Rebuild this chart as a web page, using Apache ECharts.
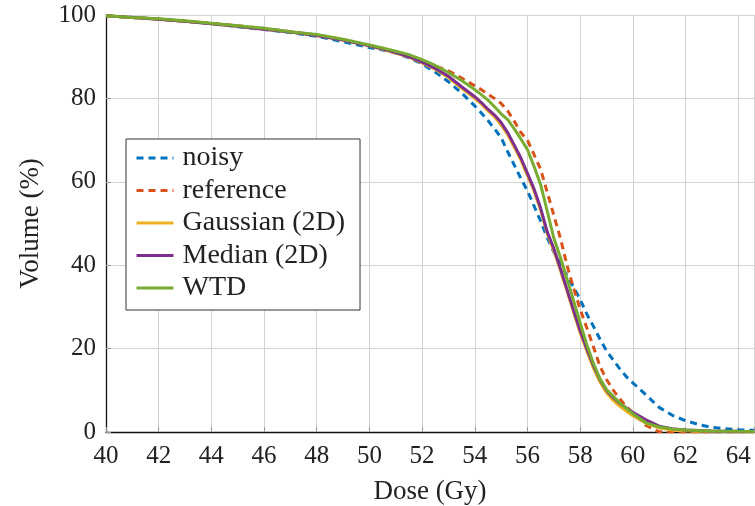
<!DOCTYPE html>
<html>
<head>
<meta charset="utf-8">
<script src="https://cdn.jsdelivr.net/npm/echarts@6/dist/echarts.min.js"></script>
<style>
html,body{margin:0;padding:0;background:#fff;}
#chart{width:755px;height:506px;}
</style>
</head>
<body>
<div id="chart"></div>
<script>
const doses = [40,41,42,43,44,45,46,47,48,49,50,50.5,51,51.5,52,52.5,53,53.5,54,54.25,54.5,54.75,55,55.25,55.5,55.75,56,56.25,56.5,56.75,57,57.25,57.5,57.75,58,58.25,58.5,58.75,59,59.25,59.5,59.75,60,60.5,61,61.5,62,62.5,63,63.5,64,64.6];

const noisy = [99.8,99.4,99.0,98.5,97.9,97.2,96.5,95.8,94.9,93.6,92.2,
  91.6,90.9,89.7,88.3,86.3,84.0,81.3,78.2,
  76.5,74.7,72.7,70.6,67.2,64.0,60.8,57.8,54.2,50.6,46.6,43.2,40.3,37.5,34.7,31.8,28.3,25.4,22.3,19.5,17.3,15.2,13.3,11.8,
  8.9,5.9,4.0,2.7,1.8,1.1,0.8,0.55,0.4];

const reference = [99.8,99.4,99.0,98.5,98.0,97.4,96.8,96.0,95.2,94.1,92.7,
  92.0,91.2,90.3,89.0,87.8,86.6,84.9,83.0,
  82.1,81.0,80.0,78.8,77.0,74.5,71.8,70.0,66.5,63.0,57.5,52.0,46.5,40.0,34.5,29.5,25.0,20.5,15.8,12.6,10.1,8.0,6.1,4.6,
  1.6,0.05,0,0,0,0,0,0,0];

const gaussian = [99.8,99.4,99.0,98.5,97.9,97.3,96.6,95.9,95.1,94.0,92.6,
  91.8,90.9,89.9,88.5,87.0,85.0,82.4,80.0,
  78.6,77.0,75.6,73.6,71.3,68.3,65.2,61.5,57.8,53.2,47.6,43.5,38.8,33.8,28.7,23.8,19.5,15.4,12.0,9.4,7.6,6.2,5.0,3.9,
  2.1,1.0,0.5,0.3,0.2,0.15,0.1,0.05,0.05];

const median = [99.8,99.4,99.0,98.5,97.9,97.3,96.6,95.9,95.1,94.0,92.6,
  91.9,91.0,90.0,88.7,87.2,85.3,82.8,80.4,
  79.0,77.4,76.0,74.2,71.8,68.8,65.7,62.0,58.3,53.7,48.0,44.0,39.2,34.2,29.2,24.3,20.0,16.0,12.6,10.0,8.3,6.9,5.8,4.7,
  2.9,1.4,0.8,0.5,0.35,0.25,0.2,0.15,0.1];

const wtd = [99.8,99.4,99.1,98.6,98.0,97.4,96.8,96.0,95.3,94.2,92.8,
  92.1,91.3,90.5,89.3,87.9,86.2,84.3,82.1,
  80.9,79.6,78.0,76.3,74.9,72.7,70.3,67.7,63.7,59.3,53.0,46.5,41.9,36.7,31.5,26.2,21.0,16.5,12.8,10.2,8.6,7.0,5.7,4.4,
  2.2,1.2,0.7,0.5,0.35,0.25,0.2,0.15,0.1];

const seriesNames = ['noisy','reference','Gaussian (2D)','Median (2D)','WTD'];
const seriesValues = [noisy, reference, gaussian, median, wtd];
const seriesColors = ['#0072BD','#D95319','#EDB120','#7E2F8E','#77AC30'];
const seriesDashed = [true, true, false, false, false];

const FONT = '"Liberation Serif", serif';

const chart = echarts.init(document.getElementById('chart'), null, {renderer:'canvas'});

const series = seriesNames.map((name, i) => ({
  name: name,
  type: 'line',
  data: doses.map((d, j) => [d, seriesValues[i][j]]),
  symbol: 'none',
  showSymbol: false,
  smooth: false,
  animation: false,
  z: 2 + i,
  lineStyle: {
    color: seriesColors[i],
    width: 3,
    type: seriesDashed[i] ? [7, 5] : 'solid'
  },
  itemStyle: { color: seriesColors[i] }
}));

chart.setOption({
  animation: false,
  backgroundColor: '#fff',
  grid: { left: 106, top: 15, right: 1, bottom: 74, containLabel: false, outerBoundsMode: 'none' },
  xAxis: {
    type: 'value',
    min: 40, max: 64.6, interval: 2,
    name: 'Dose (Gy)',
    nameLocation: 'middle',
    nameGap: 46,
    nameTextStyle: { fontFamily: FONT, fontSize: 27, color: '#222' },
    axisLine: { show: true, onZero: false, lineStyle: { color: '#111', width: 1.3 } },
    axisTick: { show: true, inside: true, length: 5, lineStyle: { color: '#999' } },
    axisLabel: {
      margin: 12, fontFamily: FONT, fontSize: 25, color: '#222',
      formatter: v => (Math.abs(v - Math.round(v)) < 1e-6 && Math.round(v) % 2 === 0) ? String(Math.round(v)) : ''
    },
    splitLine: { show: true, lineStyle: { color: '#d3d3d3', width: 1 } }
  },
  yAxis: {
    type: 'value',
    min: 0, max: 100, interval: 20,
    name: 'Volume (%)',
    nameLocation: 'middle',
    nameGap: 62,
    nameTextStyle: { fontFamily: FONT, fontSize: 27, color: '#222' },
    axisLine: { show: true, onZero: false, lineStyle: { color: '#111', width: 1.3 } },
    axisTick: { show: true, inside: true, length: 5, lineStyle: { color: '#999' } },
    axisLabel: { margin: 10, fontFamily: FONT, fontSize: 25, color: '#222' },
    splitLine: { show: true, lineStyle: { color: '#d3d3d3', width: 1 } }
  },
  legend: {
    orient: 'vertical',
    left: 126, top: 139,
    padding: [5, 15, 8, 9],
    itemWidth: 37,
    itemHeight: 14,
    itemGap: 4.5,
    backgroundColor: '#fff',
    borderColor: '#333',
    borderWidth: 1,
    borderRadius: 0,
    itemStyle: { opacity: 0, borderWidth: 0 },
    lineStyle: { width: 3 },
    textStyle: { fontFamily: FONT, fontSize: 28, color: '#222', padding: [0,0,0,4] },
    data: seriesNames
  },
  series: series
});
</script>
</body>
</html>
